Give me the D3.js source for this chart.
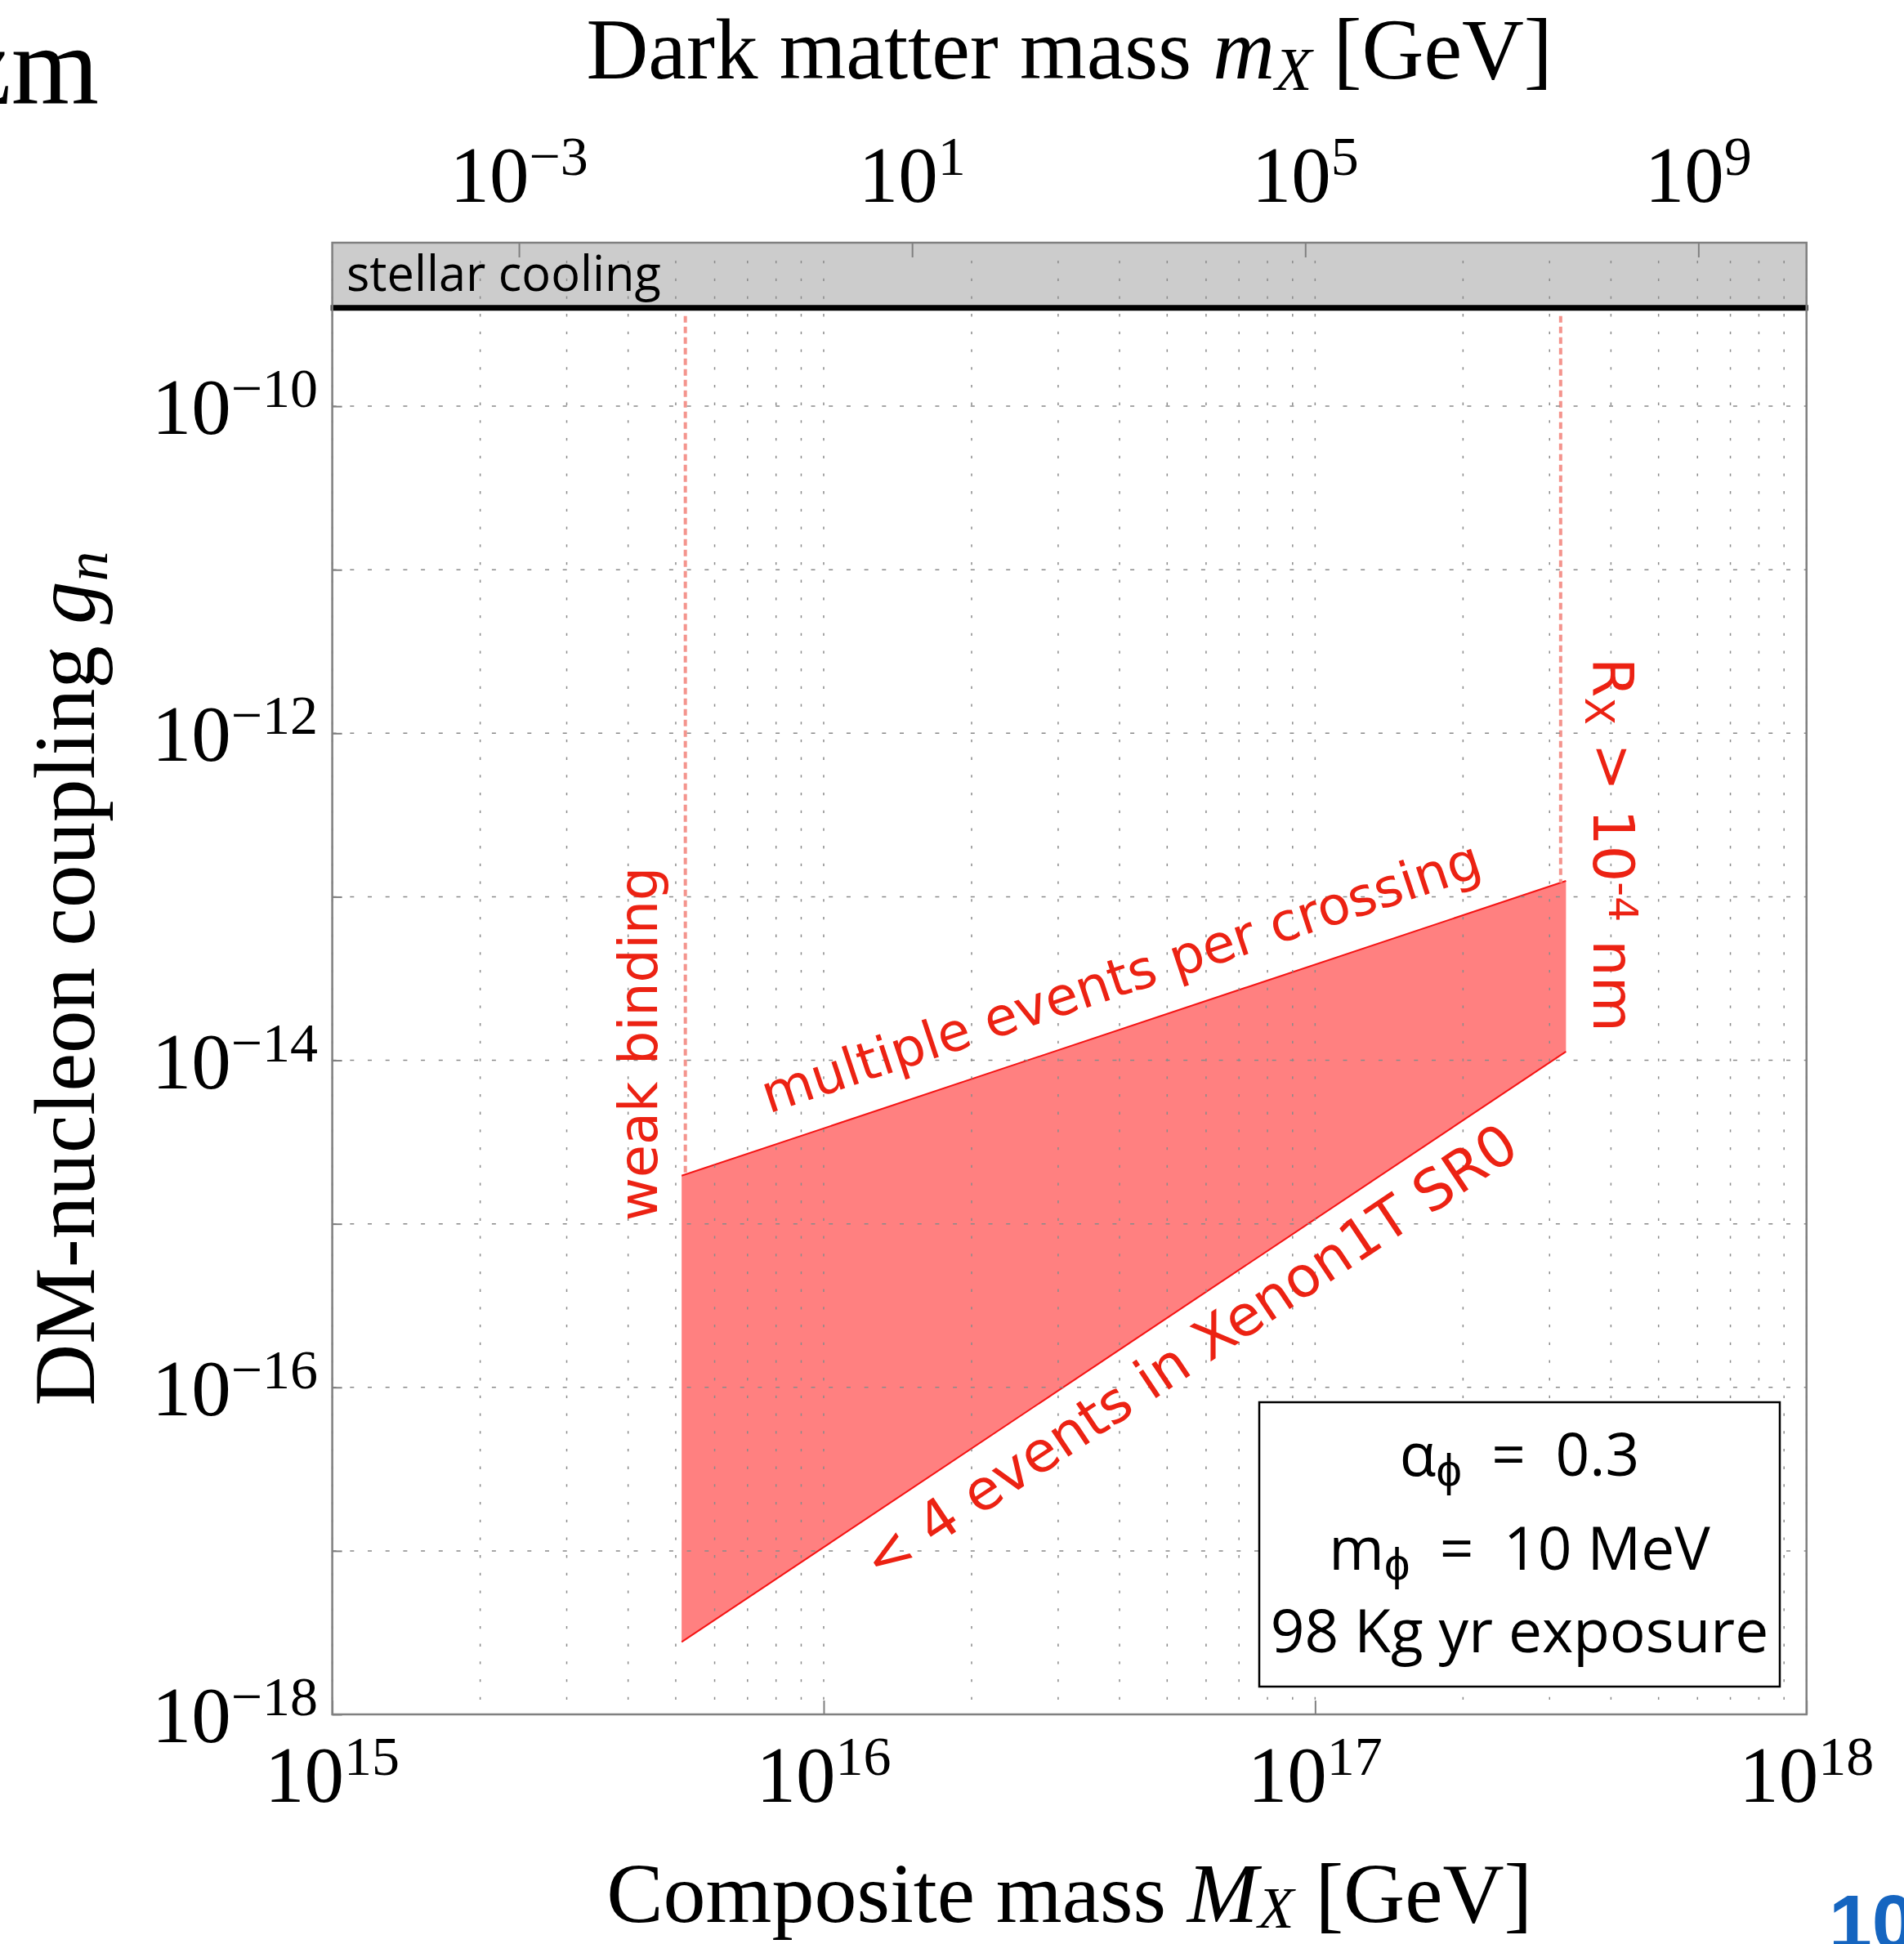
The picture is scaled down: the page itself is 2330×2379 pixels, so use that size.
<!DOCTYPE html>
<html>
<head>
<meta charset="utf-8">
<script src="https://cdn.jsdelivr.net/npm/d3@7"></script>
<style>
  body { margin: 0; background: #fff; }
  svg { display: block; }
</style>
</head>
<body>
<script>
// axes
var xTicks = [1e15, 1e16, 1e17, 1e18];
var yTicks = [1e-10, 1e-12, 1e-14, 1e-16, 1e-18];
var yGrid = [1e-10, 1e-11, 1e-12, 1e-13, 1e-14, 1e-15, 1e-16, 1e-17];
var topTicks = [1e-3, 1e1, 1e5, 1e9];
var topDomain = [1.26e-5, 1.26e10];

// excluded region (composite mass vs coupling)
var regionM = [5.14e15, 3.24e17];
var upperG = [1.97e-15, 1.25e-13];
var lowerG = [2.77e-18, 1.13e-14];
var weakBindingM = 5.23e15;
var radiusM = 3.16e17;
var coolingG = 4e-10;

var legendLines = [["α", "ϕ", "\u2002=\u20020.3"], ["m", "ϕ", "\u2002=\u200210 MeV"], ["98 Kg yr exposure"]];

var W = 2330, H = 2379;
var L = 406.6, R = 2210.7, T = 297, B = 2098;
var serif = "'Liberation Serif', 'Times New Roman', serif";
var sans = "'Open Sans', sans-serif";
var redText = "#ec2213";

var svg = d3.select("body").append("svg")
    .attr("width", W).attr("height", H);

var x = d3.scaleLog().domain([1e15, 1e18]).range([L, R]);
var y = d3.scaleLog().domain([1e-18, 1e-9]).range([B, T]);
var xTop = d3.scaleLog().domain(topDomain).range([L, R]);

// stellar cooling band
svg.append("rect")
    .attr("x", L).attr("y", T)
    .attr("width", R - L).attr("height", y(coolingG) - T)
    .attr("fill", "#cccccc");

// red region
var pts = regionM.map(function(m, i) { return {m: m, lo: lowerG[i], hi: upperG[i]}; });
svg.append("path")
    .datum(pts)
    .attr("d", d3.area().x(function(d) { return x(d.m); })
        .y0(function(d) { return y(d.lo); })
        .y1(function(d) { return y(d.hi); }))
    .attr("fill", "#ff8080");
["hi", "lo"].forEach(function(k) {
  svg.append("path")
      .datum(pts)
      .attr("d", d3.line().x(function(d) { return x(d.m); }).y(function(d) { return y(d[k]); }))
      .attr("fill", "none").attr("stroke", "#f51414").attr("stroke-width", 2);
});

// vertical bounds (dashed)
function upperAt(m) {
  var t = (Math.log10(m) - Math.log10(regionM[0])) / (Math.log10(regionM[1]) - Math.log10(regionM[0]));
  return Math.pow(10, Math.log10(upperG[0]) + t * (Math.log10(upperG[1]) - Math.log10(upperG[0])));
}
[weakBindingM, radiusM].forEach(function(m) {
  svg.append("line")
      .attr("x1", x(m)).attr("x2", x(m))
      .attr("y1", y(coolingG) + 10).attr("y2", y(upperAt(m)))
      .attr("stroke", "#f4948d").attr("stroke-width", 4)
      .attr("stroke-dasharray", "8 5");
});

// grid
var grid = svg.append("g").attr("stroke", "#8a8a8a").attr("stroke-width", 1.5);
grid.selectAll(".vg").data(x.ticks()).enter().append("line")
    .attr("x1", x).attr("x2", x)
    .attr("y1", T + 22).attr("y2", B)
    .attr("stroke-dasharray", "3.3 18.4");
grid.selectAll(".hg").data(yGrid).enter().append("line")
    .attr("x1", L).attr("x2", R)
    .attr("y1", y).attr("y2", y)
    .attr("stroke-dasharray", "5 16.7");

// black bound of stellar cooling
svg.append("line")
    .attr("x1", L - 2).attr("x2", R + 2)
    .attr("y1", y(coolingG)).attr("y2", y(coolingG))
    .attr("stroke", "#000").attr("stroke-width", 7);

// axes ticks (inward)
function clean(g) { g.select(".domain").remove(); g.selectAll("text").remove(); g.selectAll("line").attr("stroke", "#808080").attr("stroke-width", 2); }
svg.append("g").attr("transform", "translate(0," + B + ")")
    .call(d3.axisBottom(x).tickValues(xTicks).tickSize(-17).tickFormat("")).call(clean);
svg.append("g").attr("transform", "translate(" + L + ",0)")
    .call(d3.axisLeft(y).tickValues(yGrid.concat([1e-18])).tickSize(-12).tickFormat("")).call(clean);
svg.append("g").attr("transform", "translate(0," + T + ")")
    .call(d3.axisTop(xTop).tickValues(topTicks).tickSize(-18).tickFormat("")).call(clean);

// frame
svg.append("rect")
    .attr("x", L).attr("y", T).attr("width", R - L).attr("height", B - T)
    .attr("fill", "none").attr("stroke", "#808080").attr("stroke-width", 2.5);

// tick labels
function powLabel(t, v) {
  var e = Math.round(Math.log10(v));
  t.append("tspan").text("10");
  t.append("tspan").attr("dy", -33).attr("font-size", 68).text(e < 0 ? "\u2212" + (-e) : e);
}
svg.selectAll(".xl").data(xTicks).enter().append("text")
    .attr("x", x).attr("y", 2205)
    .attr("text-anchor", "middle").attr("font-family", serif).attr("font-size", 97)
    .each(function(d) { powLabel(d3.select(this), d); });
svg.selectAll(".tl").data(topTicks).enter().append("text")
    .attr("x", xTop).attr("y", 247)
    .attr("text-anchor", "middle").attr("font-family", serif).attr("font-size", 97)
    .each(function(d) { powLabel(d3.select(this), d); });
svg.selectAll(".yl").data(yTicks).enter().append("text")
    .attr("x", 389).attr("y", function(d) { return y(d) + 34; })
    .attr("text-anchor", "end").attr("font-family", serif).attr("font-size", 97)
    .each(function(d) { powLabel(d3.select(this), d); });

// axis titles
var tt = svg.append("text").attr("x", (L + R) / 2).attr("y", 96)
    .attr("text-anchor", "middle").attr("font-family", serif).attr("font-size", 105);
tt.append("tspan").text("Dark matter mass ");
tt.append("tspan").attr("font-style", "italic").text("m");
tt.append("tspan").attr("font-style", "italic").attr("font-size", 74).attr("dy", 14).text("X");
tt.append("tspan").attr("dy", -14).text(" [GeV]");

var bt = svg.append("text").attr("x", (L + R) / 2).attr("y", 2352)
    .attr("text-anchor", "middle").attr("font-family", serif).attr("font-size", 104);
bt.append("tspan").text("Composite mass ");
bt.append("tspan").attr("font-style", "italic").text("M");
bt.append("tspan").attr("font-style", "italic").attr("font-size", 72).attr("dy", 7).text("X");
bt.append("tspan").attr("dy", -7).text(" [GeV]");

var yt = svg.append("text")
    .attr("transform", "translate(115," + (T + B) / 2 + ") rotate(-90)")
    .attr("text-anchor", "middle").attr("font-family", serif).attr("font-size", 105);
yt.append("tspan").text("DM-nucleon coupling ");
yt.append("tspan").attr("font-style", "italic").text("g");
yt.append("tspan").attr("font-style", "italic").attr("font-size", 74).attr("dy", 16).text("n");

// band label
svg.append("text").attr("x", 424).attr("y", 356)
    .attr("font-family", sans).attr("font-size", 59.5).text("stellar cooling");

// region annotations
var ang = function(g) { return Math.atan2(y(g[1]) - y(g[0]), x(regionM[1]) - x(regionM[0])) * 180 / Math.PI; };
svg.append("text")
    .attr("transform", "translate(" + x(7.73e15) + "," + y(4.72e-15) + ") rotate(" + ang(upperG) + ")")
    .attr("font-family", "'DejaVu Sans', sans-serif").attr("font-size", 65).attr("fill", redText)
    .text("multiple events per crossing");
svg.append("text")
    .attr("transform", "translate(" + x(1.3e16) + "," + y(6.4e-18) + ") rotate(" + ang(lowerG) + ")")
    .attr("font-family", "'DejaVu Sans', sans-serif").attr("font-size", 69).attr("fill", redText)
    .text("< 4 events in Xenon1T SR0");
svg.append("text")
    .attr("transform", "translate(" + x(4.58e15) + "," + y(1.04e-15) + ") rotate(-90)")
    .attr("font-family", "'DejaVu Sans', sans-serif").attr("font-size", 65).attr("fill", redText)
    .text("weak binding");
var rt = svg.append("text")
    .attr("transform", "translate(" + x(3.68e17) + "," + y(2.9e-12) + ") rotate(90)")
    .attr("font-family", "'DejaVu Sans', sans-serif").attr("font-size", 70).attr("fill", redText);
rt.append("tspan").text("R");
rt.append("tspan").attr("font-size", 49).attr("dy", 10).text("X");
rt.append("tspan").attr("dy", -10).text(" > 10");
rt.append("tspan").attr("font-size", 49).attr("dy", -19).text("-4");
rt.append("tspan").attr("dy", 19).text(" nm");

// legend box
var lg = svg.append("g");
lg.append("rect")
    .attr("x", 1541).attr("y", 1716).attr("width", 637).attr("height", 348)
    .attr("fill", "#fff").attr("stroke", "#000").attr("stroke-width", 2.5);
var base = [1806, 1921, 2022];
legendLines.forEach(function(parts, i) {
  var t = lg.append("text").attr("x", 1859.5).attr("y", base[i])
      .attr("text-anchor", "middle").attr("font-family", sans).attr("font-size", 73);
  t.append("tspan").text(parts[0]);
  if (parts.length > 1) {
    t.append("tspan").attr("font-size", 56).attr("dy", 12).text(parts[1]);
    t.append("tspan").attr("dy", -12).text(parts[2]);
  }
});

// slide fragments
svg.append("text").attr("x", 121).attr("y", 127)
    .attr("text-anchor", "end").attr("font-family", serif).attr("font-size", 138).text("zm");
svg.append("text").attr("x", 2238).attr("y", 2385)
    .attr("font-family", "'Liberation Sans', Arial, sans-serif").attr("font-weight", "bold")
    .attr("font-size", 95).attr("fill", "#1565c0").text("10");
</script>
</body>
</html>
